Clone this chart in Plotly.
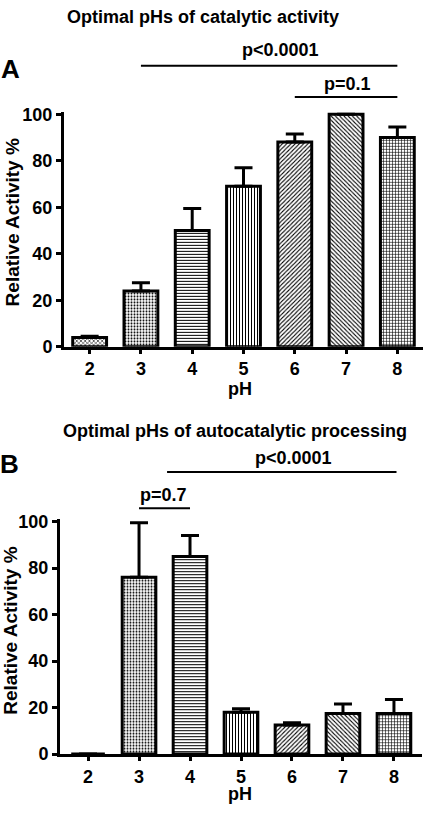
import plotly.graph_objects as go

W, H = 425, 815

# ---------------- data ----------------
ph = [2, 3, 4, 5, 6, 7, 8]
tick_labels = ["2", "3", "4", "5", "6", "7", "8"]
yticks = [0, 20, 40, 60, 80, 100]

act_a = [4, 24, 50, 69, 88, 100, 90]
err_a = [0.5, 3.5, 9.5, 8, 3.5, 0, 4.5]

act_b = [0, 76, 85, 18, 12.5, 17.5, 17.5]
err_b = [0, 23.5, 9, 1.5, 1, 4, 6]

patterns_a = ["x", ".", "-", "|", "/", "\\", "+"]
patterns_b = ["x", ".", "-", "|", "/", "\\", "+"]

title_a = "Optimal pHs of catalytic activity"
title_b = "Optimal pHs of autocatalytic processing"

FONT = "Liberation Sans"


def px(x):
    return x / W


def py(y):
    return 1 - y / H


def bar(xv, yv, ev, pats, xa, ya):
    return go.Bar(
        x=xv, y=yv, xaxis=xa, yaxis=ya, width=0.66,
        marker=dict(
            color="white",
            line=dict(color="black", width=3),
            pattern=dict(shape=pats, fgcolor="black", bgcolor="white",
                         size=3, solidity=0.35, fillmode="replace"),
        ),
        error_y=dict(type="data", symmetric=False, array=ev,
                     arrayminus=[0] * len(ev), color="black",
                     thickness=3, width=9),
        showlegend=False, hoverinfo="skip",
    )


fig = go.Figure()
fig.add_trace(bar(ph, act_a, err_a, patterns_a, "x", "y"))
fig.add_trace(bar(ph, act_b, err_b, patterns_b, "x2", "y2"))

tickfont = dict(family=FONT, size=18, color="black", weight="bold")

xcommon = dict(tickmode="array", tickvals=ph, ticktext=tick_labels,
               showline=True, linecolor="black", linewidth=3,
               ticks="outside", ticklen=4, tickwidth=2.5, tickcolor="black",
               tickfont=tickfont, showgrid=False, zeroline=False,
               fixedrange=True)
ycommon = dict(tickmode="array", tickvals=yticks,
               showline=True, linecolor="black", linewidth=3,
               ticks="outside", ticklen=5, tickwidth=2.5, tickcolor="black",
               tickfont=tickfont, showgrid=False, zeroline=False,
               range=[0, 101], fixedrange=True)

fig.update_layout(
    width=W, height=H,
    margin=dict(l=0, r=0, t=0, b=0),
    paper_bgcolor="white", plot_bgcolor="white",
    font=dict(family=FONT, color="black"),
    bargap=0.3,
    xaxis=dict(domain=[px(64), px(423)], range=[1.5, 8.5], anchor="y", **xcommon),
    yaxis=dict(domain=[py(347), py(107.1)], anchor="x", **ycommon),
    xaxis2=dict(domain=[px(60), px(422)], range=[1.45, 8.55], anchor="y2", **xcommon),
    yaxis2=dict(domain=[py(763), py(523.1)], anchor="x2", **ycommon),
)

anns = []


def txt(t, x, y, size=18, angle=0):
    anns.append(dict(text=t, x=px(x), y=py(y), xref="paper", yref="paper",
                     showarrow=False, xanchor="center", yanchor="middle",
                     textangle=angle,
                     font=dict(family=FONT, size=size, color="black",
                               weight="bold")))


txt(title_a, 203, 10)
txt("A", 10, 63, size=26)
txt("p<0.0001", 280, 44)
txt("p=0.1", 347, 79)
txt("pH", 240, 390)
txt("Relative Activity %", 12, 220, size=19, angle=-90)

txt(title_b, 235, 433)
txt("B", 9, 467, size=26)
txt("p<0.0001", 293, 461)
txt("p=0.7", 163, 498)
txt("pH", 240, 804)
txt("Relative Activity %", 11, 637, size=19, angle=-90)

fig.update_layout(annotations=anns)

# significance lines (x in data coordinates)
sig_lines = [("x", 3, 8, 60), ("x", 6, 8, 92), ("x2", 3.55, 8.05, 475), ("x2", 3, 4, 512)]
for xr, x0, x1, yy in sig_lines:
    fig.add_shape(type="line", xref=xr, yref="paper", x0=x0, x1=x1,
                  y0=py(yy), y1=py(yy), line=dict(color="black", width=2))

fig.write_html(
    "out.html",
    config={"displayModeBar": False},
    post_script="document.body.style.margin='0';document.body.style.overflow='hidden';",
)
